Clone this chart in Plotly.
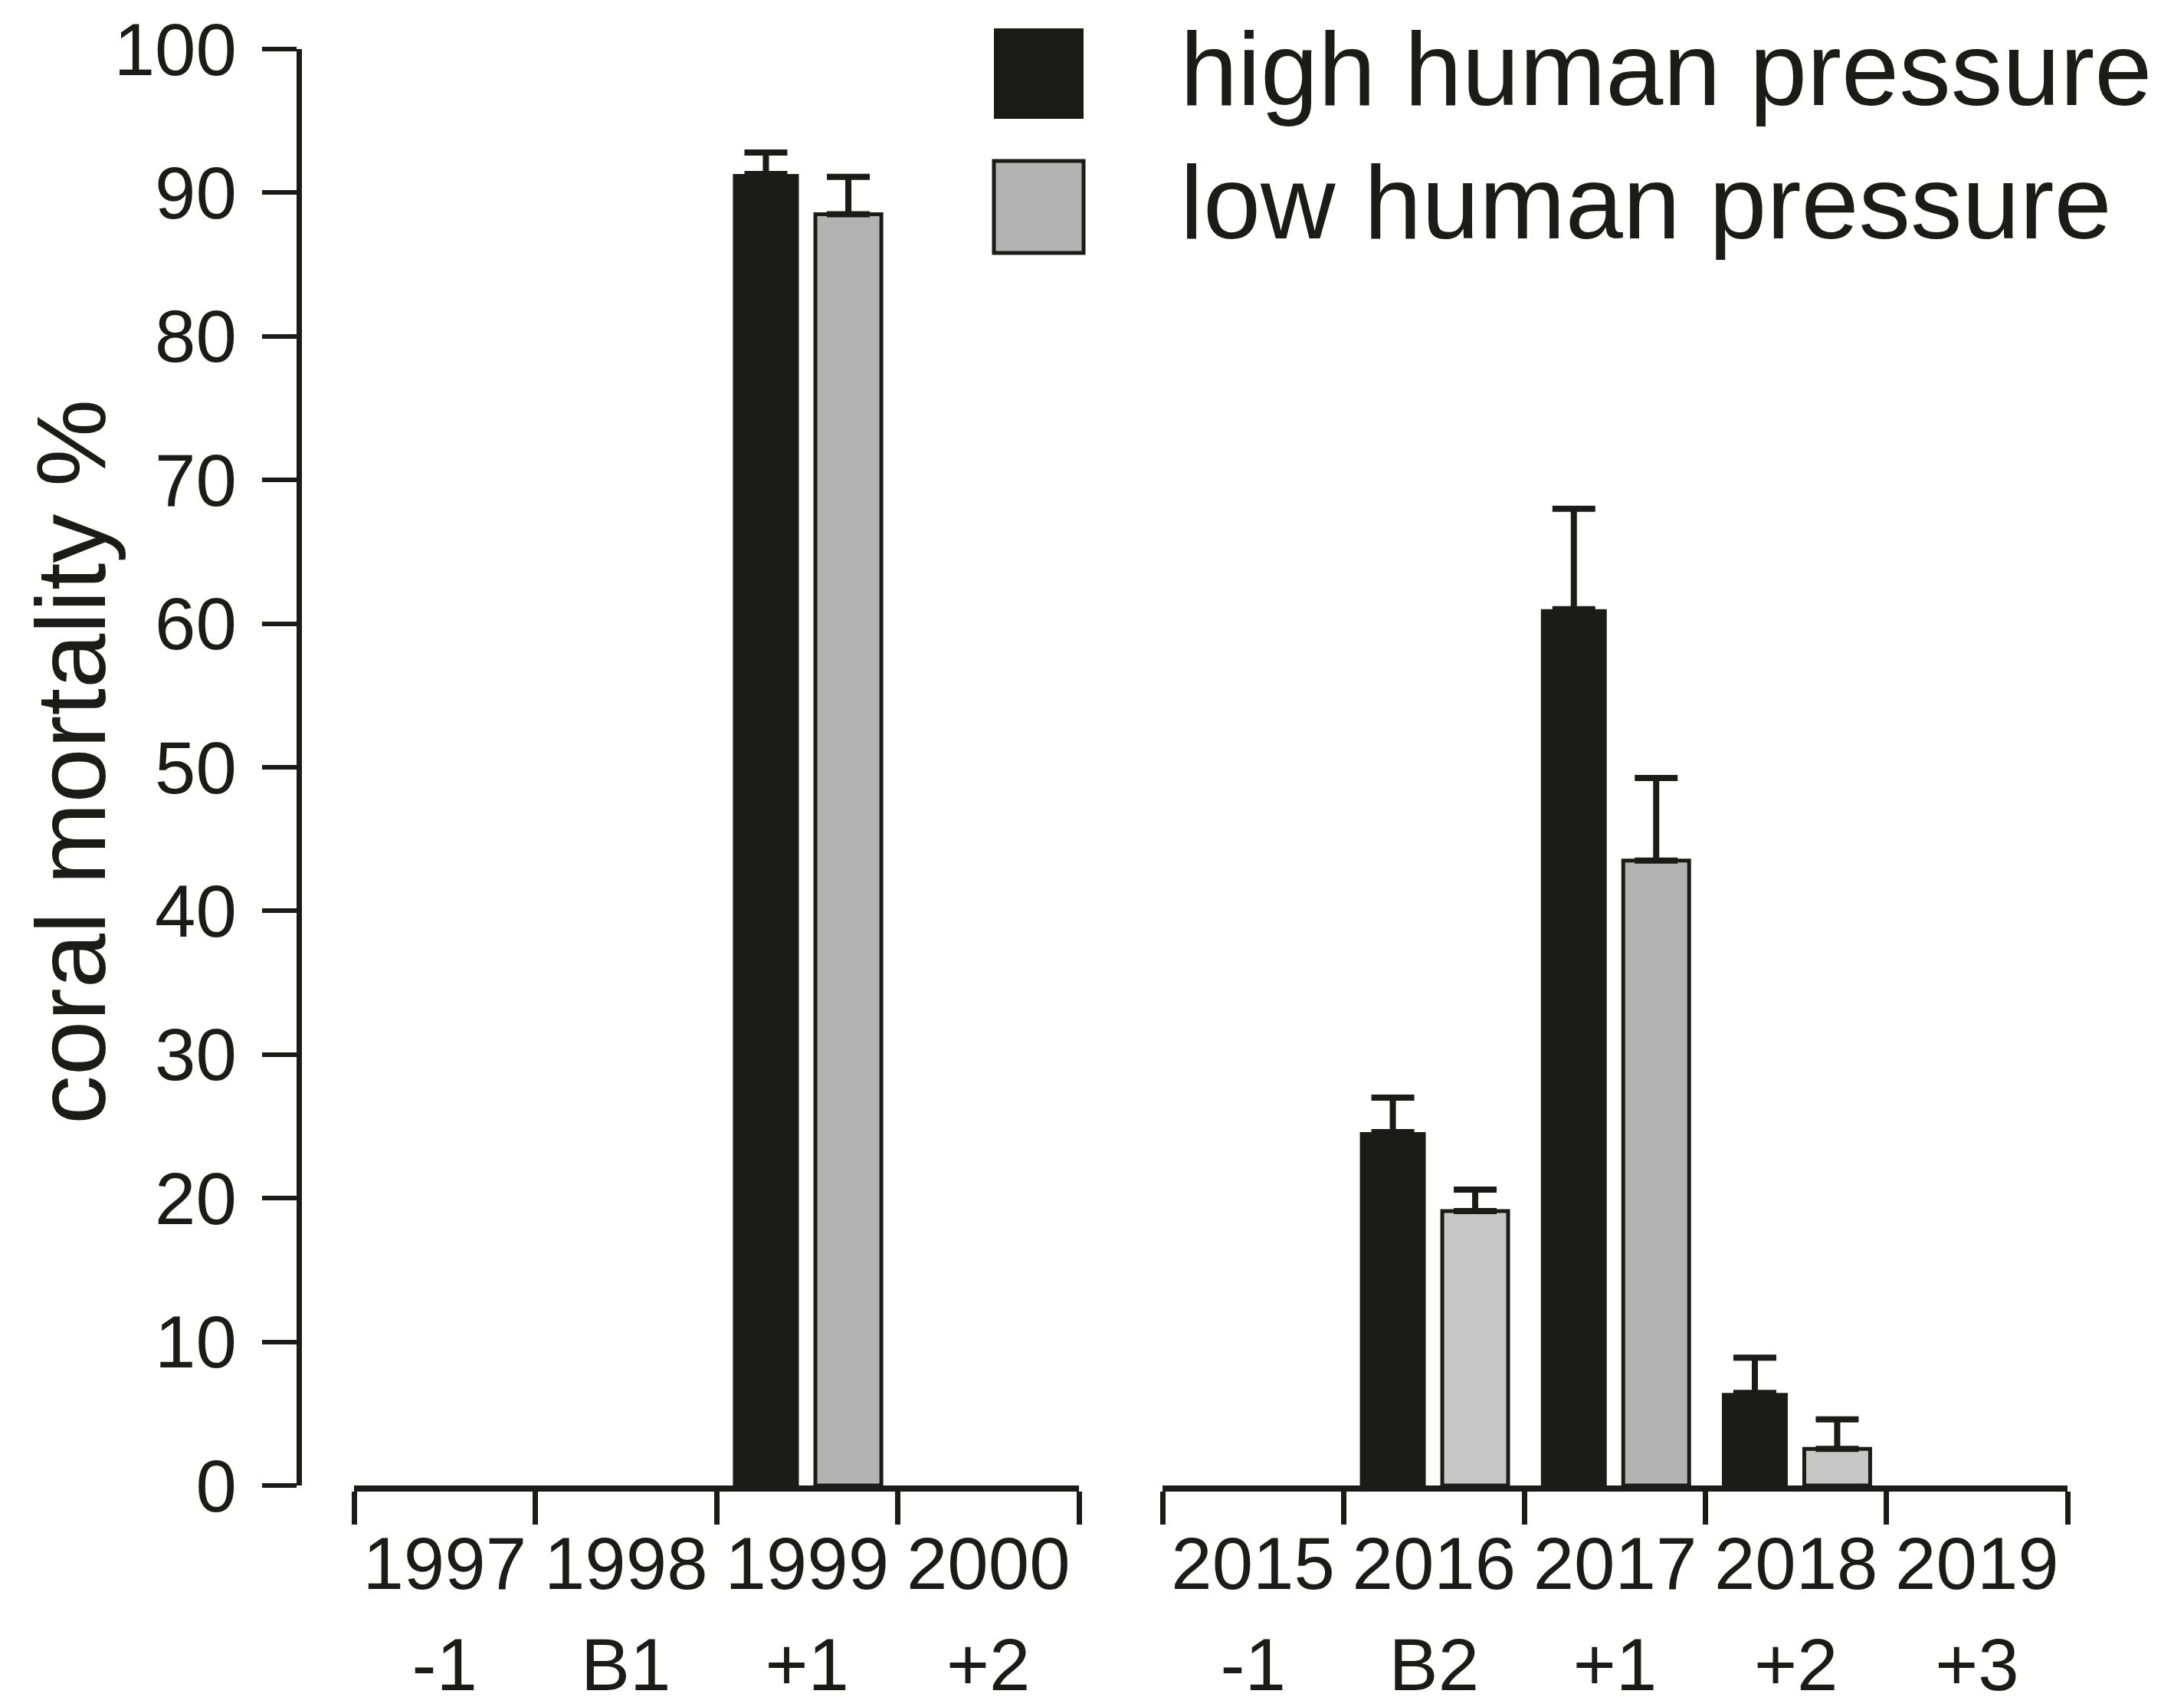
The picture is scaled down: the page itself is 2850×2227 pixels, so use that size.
import plotly.graph_objects as go

# ---- data ----
left_years = ["1997", "1998", "1999", "2000"]
left_phase = ["-1", "B1", "+1", "+2"]
right_years = ["2015", "2016", "2017", "2018", "2019"]
right_phase = ["-1", "B2", "+1", "+2", "+3"]

series_names = ["high human pressure", "low human pressure"]

high_left = [None, None, 91.3, None]
high_left_err = [0, 0, 1.5, 0]
low_left = [None, None, 88.5, None]
low_left_err = [0, 0, 2.6, 0]

high_right = [None, 24.6, 61.0, 6.45, None]
high_right_err = [0, 2.4, 7.0, 2.45, 0]
low_right = [None, 19.1, 43.5, 2.55, None]
low_right_err = [0, 1.5, 5.75, 2.05, 0]

y_ticks = [0, 10, 20, 30, 40, 50, 60, 70, 80, 90, 100]

# ---- styles ----
BLACK = "#1b1b19"
GREY = "#b3b3b3"
LIGHT = "#c6c7c6"
low_left_colors = [GREY, GREY, GREY, GREY]
low_right_colors = [LIGHT, LIGHT, GREY, LIGHT, LIGHT]
FONT = "Liberation Sans, Arial, sans-serif"
TICK_SIZE = 96
W, H = 2850, 2227
ML, MR, MT, MB = 382, 160, 56, 297
PW = W - ML - MR
PH = H - MT - MB


def px_x(x):
    return (x - ML) / PW


def px_y(y):
    return (H - MB - y) / PH


err_style = dict(type="data", symmetric=False, color=BLACK, thickness=8, width=28)

fig = go.Figure()
fig.add_trace(go.Bar(x=left_years, y=high_left, name=series_names[0], xaxis="x", yaxis="y",
                     marker=dict(color=BLACK, line=dict(width=0)),
                     error_y=dict(array=high_left_err, arrayminus=[0] * 4, **err_style),
                     showlegend=False))
fig.add_trace(go.Bar(x=left_years, y=low_left, name=series_names[1], xaxis="x", yaxis="y",
                     marker=dict(color=low_left_colors, line=dict(color=BLACK, width=5)),
                     error_y=dict(array=low_left_err, arrayminus=[0] * 4, **err_style),
                     showlegend=False))
fig.add_trace(go.Bar(x=right_years, y=high_right, name=series_names[0], xaxis="x2", yaxis="y",
                     marker=dict(color=BLACK, line=dict(width=0)),
                     error_y=dict(array=high_right_err, arrayminus=[0] * 5, **err_style),
                     showlegend=False))
fig.add_trace(go.Bar(x=right_years, y=low_right, name=series_names[1], xaxis="x2", yaxis="y",
                     marker=dict(color=low_right_colors, line=dict(color=BLACK, width=5)),
                     error_y=dict(array=low_right_err, arrayminus=[0] * 5, **err_style),
                     showlegend=False))

dom1 = [px_x(454), px_x(1400)]
dom2 = [px_x(1509), 1.0]

year_axis = dict(type="category", showline=True, linewidth=8, linecolor=BLACK,
                 ticks="outside", ticklen=43, tickwidth=7, tickcolor=BLACK,
                 tickson="boundaries", showgrid=False, zeroline=False, tickangle=0,
                 tickfont=dict(family=FONT, size=TICK_SIZE, color=BLACK),
                 ticklabelstandoff=12, anchor="y", fixedrange=True)
phase_axis = dict(type="category", showline=False, ticks="", showgrid=False, zeroline=False,
                  tickangle=0, tickfont=dict(family=FONT, size=TICK_SIZE, color=BLACK),
                  side="bottom", fixedrange=True)

fig.update_layout(
    width=W, height=H,
    margin=dict(l=ML, r=MR, t=MT, b=MB, autoexpand=False),
    paper_bgcolor="white", plot_bgcolor="white",
    barmode="group", bargap=0.09, bargroupgap=0.2,
    showlegend=False,
    xaxis=dict(domain=dom1, categoryorder="array", categoryarray=left_years,
               range=[-0.5, len(left_years) - 0.5], **year_axis),
    xaxis2=dict(domain=dom2, categoryorder="array", categoryarray=right_years,
                range=[-0.5, len(right_years) - 0.5], **year_axis),
    xaxis3=dict(overlaying="x", anchor="y", categoryorder="array", categoryarray=left_years,
                range=[-0.5, len(left_years) - 0.5], tickvals=left_years, ticktext=left_phase,
                ticklabelstandoff=170, **phase_axis),
    xaxis4=dict(overlaying="x2", anchor="y", categoryorder="array", categoryarray=right_years,
                range=[-0.5, len(right_years) - 0.5], tickvals=right_years, ticktext=right_phase,
                ticklabelstandoff=170, **phase_axis),
    yaxis=dict(range=[0, 100], tickvals=y_ticks, showline=True, linewidth=7, linecolor=BLACK,
               ticks="outside", ticklen=45, tickwidth=6, tickcolor=BLACK,
               showgrid=False, zeroline=False, anchor="free", position=0,
               tickfont=dict(family=FONT, size=TICK_SIZE, color=BLACK),
               ticklabeloverflow="allow",
               ticklabelstandoff=14, fixedrange=True),
)

# invisible traces to register the overlay axes
fig.add_trace(go.Bar(x=left_years, y=[None] * 4, xaxis="x3", yaxis="y", showlegend=False, hoverinfo="skip"))
fig.add_trace(go.Bar(x=right_years, y=[None] * 5, xaxis="x4", yaxis="y", showlegend=False, hoverinfo="skip"))

# legend (drawn as swatches + text)
swatches = [
    (29, 147, BLACK, 0),
    (202, 322, GREY, 5),
]
for (top, bottom, color, lw), name, ymid in zip(swatches, series_names, [82, 257]):
    fig.add_shape(type="rect", xref="paper", yref="paper",
                  x0=px_x(1289), x1=px_x(1406), y0=px_y(bottom), y1=px_y(top),
                  fillcolor=color, line=dict(color=BLACK, width=lw))
    fig.add_annotation(xref="paper", yref="paper", x=px_x(1530), y=px_y(ymid),
                       xanchor="left", yanchor="middle", text=name, showarrow=False,
                       font=dict(family=FONT, size=135, color=BLACK))

# y-axis title
fig.add_annotation(xref="paper", yref="paper", x=px_x(84), y=px_y(986),
                   xanchor="center", yanchor="middle", textangle=-90,
                   text="coral mortality %", showarrow=False,
                   font=dict(family=FONT, size=128, color=BLACK))

fig.write_html("out.html")
